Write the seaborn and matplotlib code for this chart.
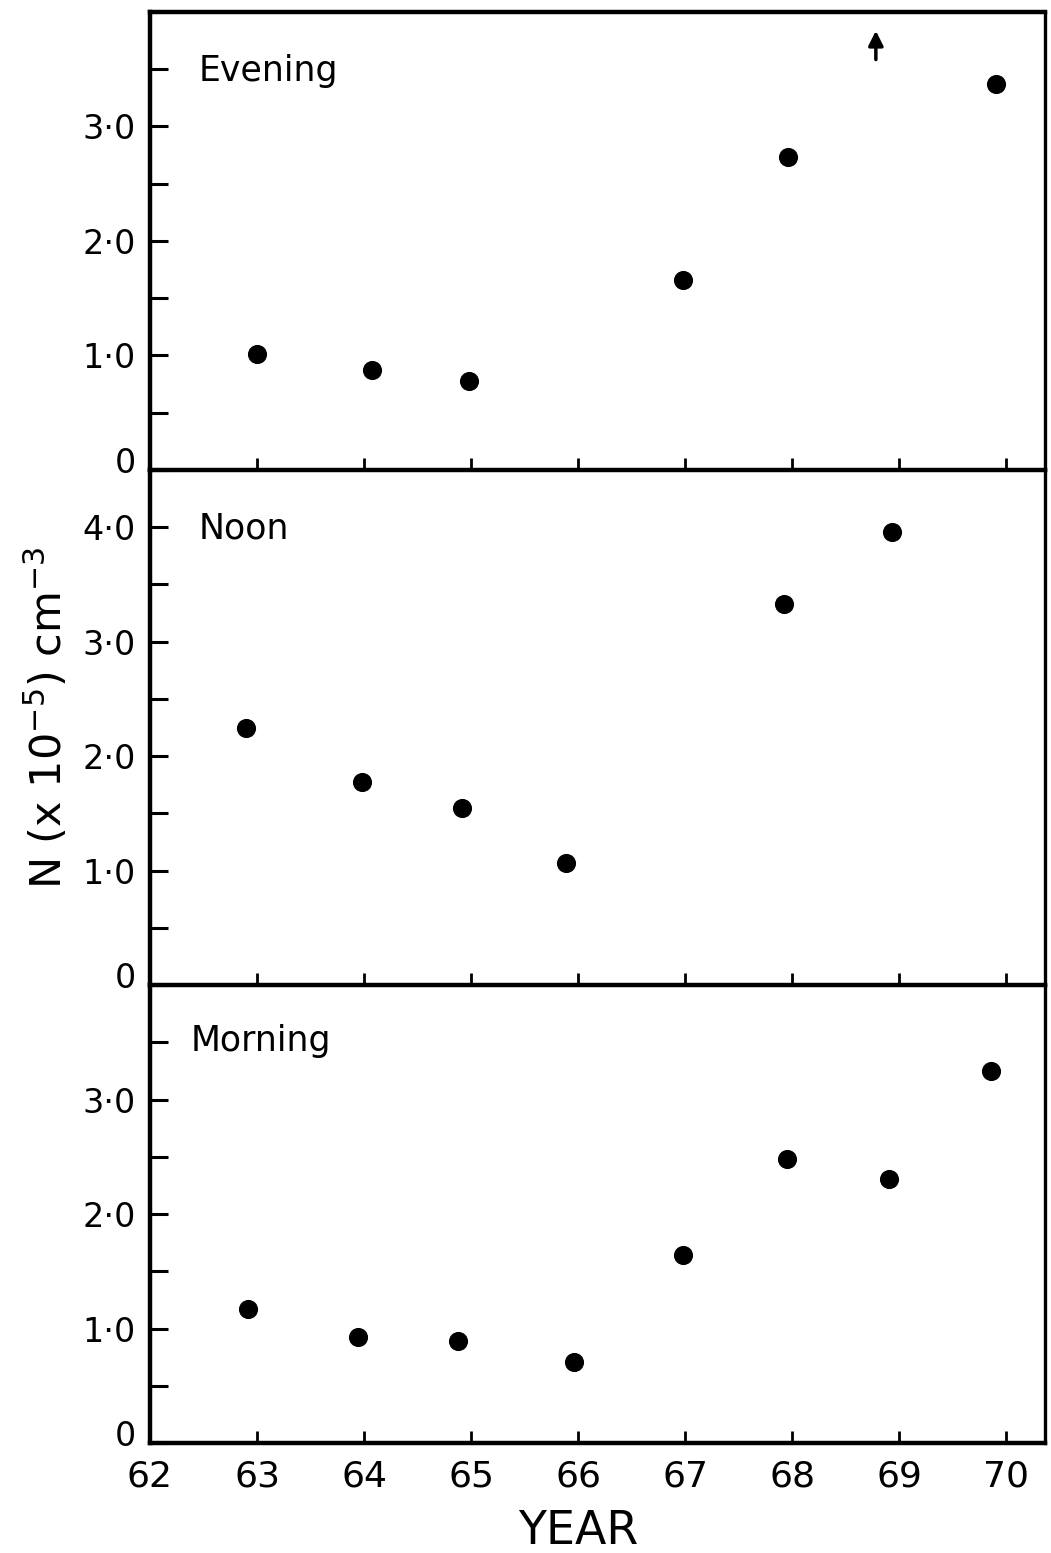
import matplotlib
matplotlib.use("Agg")
import matplotlib.pyplot as plt
import matplotlib.transforms as mtransforms
import numpy as np
import pandas as pd
import seaborn as sns

# ---------------- data ----------------
years_evening = [63.0, 64.07, 64.98, 66.98, 67.96, 69.90]
n_evening = [1.01, 0.87, 0.78, 1.66, 2.73, 3.37]

years_noon = [62.90, 63.98, 64.91, 65.89, 67.92, 68.93]
n_noon = [2.25, 1.77, 1.55, 1.07, 3.33, 3.96]

years_morning = [62.92, 63.94, 64.88, 65.96, 66.98, 67.95, 68.90, 69.86]
n_morning = [1.17, 0.93, 0.89, 0.71, 1.64, 2.48, 2.31, 3.25]

panel_names = ["Evening", "Noon", "Morning"]
panel_ymax = [4.0, 4.5, 4.0]
panel_label_y = [3.48, 3.99, 3.51]
panel_label_x = [62.45, 62.45, 62.38]
labelled_ticks = [[0, 1, 2, 3], [0, 1, 2, 3, 4], [0, 1, 2, 3]]
year_ticks = [62, 63, 64, 65, 66, 67, 68, 69, 70]
arrow_year = 68.78
arrow_from, arrow_to = 3.56, 3.86

# ---------------- style ----------------
sns.set_theme(style="ticks")
plt.rcParams["font.family"] = ["DejaVu Sans"]
plt.rcParams["text.color"] = "black"
plt.rcParams["axes.labelcolor"] = "black"

fig = plt.figure(figsize=(10.51, 15.53), dpi=100)
gs = fig.add_gridspec(3, 1, height_ratios=panel_ymax, hspace=0,
                      left=0.1427, right=0.9943, top=0.9923, bottom=0.0708)

datasets = [(years_evening, n_evening), (years_noon, n_noon),
            (years_morning, n_morning)]

axes = []
for i, ((yrs, vals), name) in enumerate(zip(datasets, panel_names)):
    ax = fig.add_subplot(gs[i])
    ax.patch.set_alpha(0)
    axes.append(ax)
    df = pd.DataFrame({"year": yrs, "N": vals})
    sns.scatterplot(data=df, x="year", y="N", ax=ax, color="black",
                    s=190, edgecolor="black", linewidth=0, zorder=3)
    ax.set_xlim(62, 70.36)
    ax.set_ylim(0, panel_ymax[i])

    ax.set_yticks(labelled_ticks[i])
    ax.set_yticklabels(["0" if t == 0 else f"{t:.1f}".replace(".", "\u00b7")
                        for t in labelled_ticks[i]])
    minor = np.arange(0.5, panel_ymax[i], 1.0)
    ax.set_yticks(minor, minor=True)

    ax.set_xticks(year_ticks)
    ax.tick_params(axis="y", which="both", direction="in", length=13,
                   width=2.2, labelsize=24, pad=10, colors="black")
    ax.tick_params(axis="x", which="both", direction="in", length=9,
                   width=2.0, labelsize=26, pad=12, colors="black")
    if i < 2:
        ax.tick_params(axis="x", labelbottom=False)

    # the "0" label sits a little above the baseline in the original
    zero_lbl = ax.get_yticklabels()[0]
    zero_lbl.set_transform(zero_lbl.get_transform() +
                           mtransforms.ScaledTranslation(0, 10 / 100,
                                                         fig.dpi_scale_trans))

    for side in ["left", "bottom", "top"]:
        ax.spines[side].set_linewidth(3.2)
        ax.spines[side].set_color("black")
        ax.spines[side].set_zorder(5)
    ax.spines["right"].set_linewidth(2.4)
    ax.spines["right"].set_color("black")
    if i > 0:
        ax.spines["top"].set_visible(False)

    ax.text(panel_label_x[i], panel_label_y[i], name, fontsize=25,
            va="center", ha="left", color="black")
    ax.set_xlabel("")
    ax.set_ylabel("")

# arrow in the evening panel
axes[0].annotate("", xy=(arrow_year, arrow_to), xytext=(arrow_year, arrow_from),
                 arrowprops=dict(arrowstyle="-|>", color="black", lw=2.5,
                                 mutation_scale=22))

axes[2].set_xlabel("YEAR", fontsize=33, color="black")
axes[2].xaxis.set_label_coords(0.478, -0.145)
axes[1].set_ylabel(r"N (x 10$^{-5}$) cm$^{-3}$", fontsize=31, color="black")
axes[1].yaxis.set_label_coords(-0.088, 0.52)

fig.savefig("out.png", dpi=100, facecolor="white")
